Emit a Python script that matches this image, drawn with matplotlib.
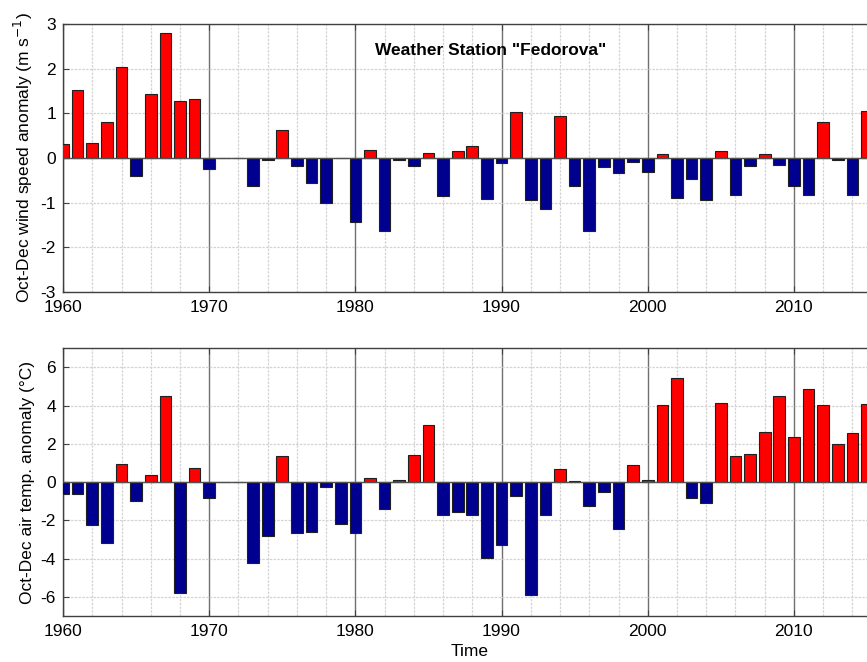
import numpy as np
import matplotlib
matplotlib.use('Agg')
import matplotlib.pyplot as plt
from matplotlib.ticker import MultipleLocator

plt.rcParams['font.family'] = ['Liberation Sans', 'DejaVu Sans']
plt.rcParams['axes.unicode_minus'] = False

years = list(range(1960, 2016))

# Oct-Dec wind speed anomaly (m/s), 1971/1972/1979 are ~0
wind = [0.31, 1.53, 0.34, 0.80, 2.04, -0.41, 1.43, 2.81, 1.28, 1.31,
        -0.25, 0.0, 0.0, -0.63, -0.04, 0.62, -0.19, -0.55, -1.00, 0.0,
        -1.43, 0.19, -1.63, -0.04, -0.19, 0.11, -0.85, 0.16, 0.27, -0.91,
        -0.12, 1.04, -0.93, -1.14, 0.93, -0.63, -1.63, -0.21, -0.34, -0.08,
        -0.31, 0.10, -0.89, -0.46, -0.95, 0.16, -0.82, -0.19, 0.10, -0.16,
        -0.63, -0.83, 0.80, -0.04, -0.82, 1.05]

# Oct-Dec air temperature anomaly (deg C)
temp = [-0.63, -0.64, -2.23, -3.18, 0.94, -0.99, 0.35, 4.52, -5.79, 0.73,
        -0.85, 0.0, 0.0, -4.21, -2.83, 1.34, -2.64, -2.59, -0.28, -2.21,
        -2.66, 0.24, -1.39, 0.09, 1.43, 2.96, -1.70, -1.58, -1.72, -3.95,
        -3.27, -0.73, -5.88, -1.72, 0.68, 0.05, -1.27, -0.52, -2.45, 0.90,
        0.10, 4.02, 5.43, -0.83, -1.11, 4.12, 1.37, 1.46, 2.61, 4.52,
        2.38, 4.85, 4.03, 2.00, 2.57, 4.09]

red = '#ff0000'
blue = '#000090'


def draw_panel(ax, vals, ylim, yticks, ylabel):
    vals = np.array(vals)
    cols = [red if v > 0 else blue for v in vals]
    ax.bar(years, vals, width=0.8, color=cols, edgecolor='#202020',
           linewidth=0.8, zorder=3)
    ax.axhline(0, color='#505050', linewidth=1.0, zorder=4)
    ax.set_xlim(1960, 2015)
    ax.set_ylim(*ylim)
    ax.set_yticks(yticks)
    ax.xaxis.set_major_locator(MultipleLocator(10))
    ax.xaxis.set_minor_locator(MultipleLocator(2))
    ax.grid(which='major', axis='x', color='#707070', linewidth=1.0,
            linestyle='-', zorder=0)
    ax.grid(which='minor', axis='x', color='#d4d4d4', linewidth=0.9,
            linestyle=(0, (2, 1)), zorder=0)
    ax.grid(which='major', axis='y', color='#d4d4d4', linewidth=0.9,
            linestyle=(0, (2, 1)), zorder=0)
    ax.set_axisbelow(True)
    ax.tick_params(which='major', direction='in', length=4, top=True,
                   labelsize=12.5, color='#404040')
    ax.tick_params(axis='x', pad=6)
    ax.tick_params(axis='y', pad=5)
    ax.tick_params(which='minor', length=0)
    for s in ['top', 'bottom', 'left']:
        ax.spines[s].set_color('#404040')
        ax.spines[s].set_linewidth(1.0)
    ax.spines['right'].set_visible(False)
    ax.set_ylabel(ylabel, fontsize=12.5, labelpad=4)


fig = plt.figure(figsize=(8.67, 6.62), dpi=100)
ax1 = fig.add_axes([0.0727, 0.559, 0.9273, 0.4047])
ax2 = fig.add_axes([0.0727, 0.0695, 0.9273, 0.4045])

draw_panel(ax1, wind, (-3, 3), range(-3, 4),
           'Oct-Dec wind speed anomaly (m s$^{-1}$)')
draw_panel(ax2, temp, (-7, 7), range(-6, 7, 2),
           'Oct-Dec air temp. anomaly (°C)')

ax1.text(0.532, 0.903, 'Weather Station "Fedorova"', transform=ax1.transAxes,
         ha='center', va='center', fontsize=12.5, fontweight='bold')
ax2.set_xlabel('Time', fontsize=12.5, labelpad=4)
ax2.xaxis.set_label_coords(0.506, -0.105)

fig.savefig('out.png', dpi=100)
